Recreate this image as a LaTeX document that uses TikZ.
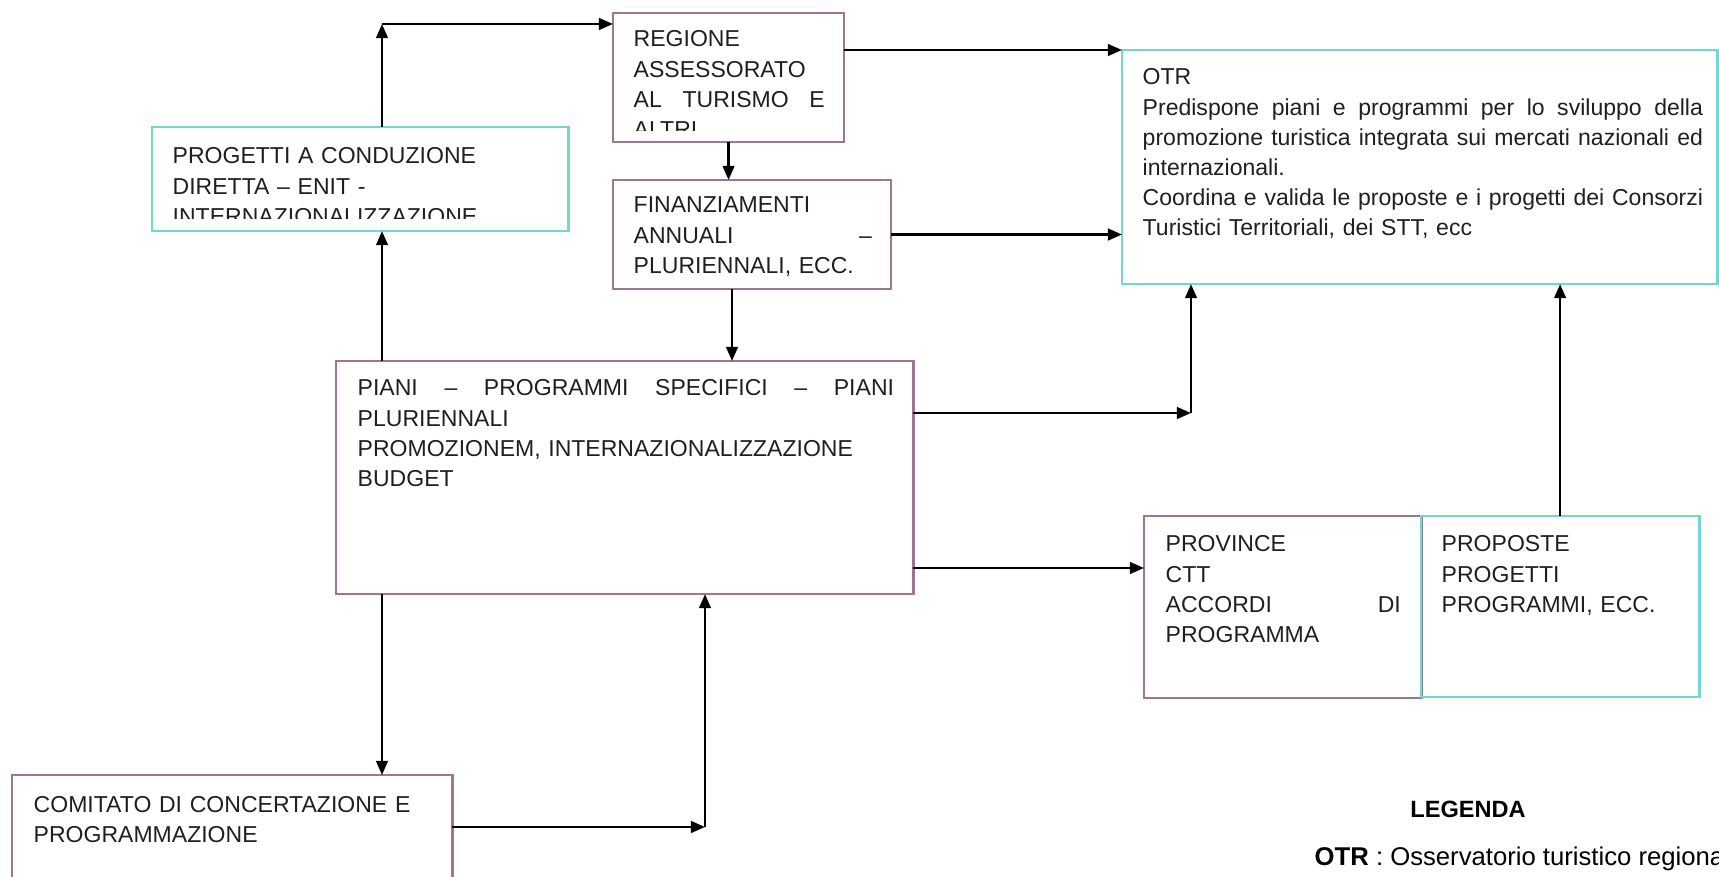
\documentclass[tikz,border=0pt]{standalone}
\usepackage{fontspec}
\setmainfont{Liberation Sans}
\usetikzlibrary{arrows.meta}
\definecolor{rosa}{RGB}{158,118,148}
\definecolor{ciano}{RGB}{112,214,214}
\tikzset{
  rosabox/.style={draw=rosa, line width=0.75pt, inner sep=0pt, outer sep=0pt, anchor=north west},
  cianobox/.style={draw=ciano, line width=0.75pt, inner sep=0pt, outer sep=0pt, anchor=north west},
  testo/.style={inner sep=0pt, anchor=base west, align=left, text=black!88, font=\fontsize{6.55}{8.54}\selectfont},
  freccia/.style={line width=0.7pt, -{Triangle[length=4pt,width=3.3pt]}},
}
\begin{document}
\begin{tikzpicture}[x=0.01cm, y=-0.01cm]
\useasboundingbox (0,0) rectangle (1719,877);
% riquadri
\node[rosabox, minimum width=2.31cm, minimum height=1.29cm] (regione) at (613,13) {};
\node[cianobox, minimum width=4.16cm, minimum height=1.04cm] (progetti) at (152,127) {};
\node[rosabox, minimum width=2.78cm, minimum height=1.09cm] (finanz) at (613,180) {};
\node[cianobox, minimum width=5.95cm, minimum height=2.34cm] (otr) at (1122,50) {};
\node[rosabox, minimum width=5.77cm, minimum height=2.33cm] (piani) at (336,361) {};
\node[rosabox, minimum width=2.77cm, minimum height=1.82cm] (province) at (1144,516) {};
\node[cianobox, minimum width=2.78cm, minimum height=1.81cm] (proposte) at (1421,516) {};
\node[rosabox, minimum width=4.40cm, minimum height=1.10cm] (comitato) at (12,775) {};
% testi
\begin{scope}
  \clip (regione.north west) rectangle ([yshift=0.12cm]regione.south east);
  \node[testo, text width=1.91cm] (regionetxt) at (633,47) {REGIONE\\ASSESSORATO\\AL\hfill TURISMO\hfill E\\ALTRI};
\end{scope}
\begin{scope}
  \clip (progetti.north west) rectangle ([yshift=0.13cm]progetti.south east);
  \node[testo, text width=3.76cm] (progettitxt) at (172,164) {PROGETTI A CONDUZIONE\\DIRETTA – ENIT -\\INTERNAZIONALIZZAZIONE};
\end{scope}
\node[testo, text width=2.38cm] (finanztxt) at (633,213) {FINANZIAMENTI\\ANNUALI\hfill –\\PLURIENNALI, ECC.};
\node[testo, text width=5.60cm] (otrtxt) at (1142,85) {OTR\\Predispone\hfill piani\hfill e\hfill programmi\hfill per\hfill lo\hfill sviluppo\hfill della\\promozione\hfill turistica\hfill integrata\hfill sui\hfill mercati\hfill nazionali\hfill ed\\internazionali.\\Coordina\hfill e\hfill valida\hfill le\hfill proposte\hfill e\hfill i\hfill progetti\hfill dei\hfill Consorzi\\Turistici Territoriali, dei STT, ecc};
\node[testo, text width=5.36cm] (pianitxt) at (357,396) {PIANI\hfill –\hfill PROGRAMMI\hfill SPECIFICI\hfill –\hfill PIANI\\PLURIENNALI\\PROMOZIONEM, INTERNAZIONALIZZAZIONE\\BUDGET};
\node[testo, text width=2.35cm] (provincetxt) at (1165,552) {PROVINCE\\CTT\\ACCORDI\hfill DI\\PROGRAMMA};
\node[testo, text width=2.38cm] (propostetxt) at (1441,552) {PROPOSTE\\PROGETTI\\PROGRAMMI, ECC.};
\node[testo, text width=4.00cm] (comitatotxt) at (33,812) {COMITATO DI CONCERTAZIONE E\\PROGRAMMAZIONE};
\node[anchor=base, inner sep=0pt, font=\fontsize{6.7}{8}\selectfont\bfseries] (legenda) at (1468,817) {LEGENDA};
\node[anchor=base west, inner sep=0pt, font=\fontsize{7.3}{9}\selectfont] (legendaotr) at (1314,865) {\textbf{OTR} : Osservatorio turistico regionale};
% frecce
\coordinate (angolo) at (382,24);
\coordinate (discesa) at (732,300);
\coordinate (nodo1) at (1191,413);
\coordinate (nodo2) at (1144,568);
\coordinate (nodo3) at (705,827);
\draw[freccia] (progetti.north -| angolo) -- (angolo);
\draw[freccia] (angolo) -- (angolo -| regione.west);
\draw[freccia] (regione.south) -- (finanz.north -| regione.south);
\draw[freccia] (regione.east |- otr.north west) -- (otr.north west);
\draw[freccia] (finanz.east) -- (finanz.east -| otr.west);
\draw[freccia] (finanz.south -| discesa) -- (piani.north -| discesa);
\draw[freccia] (piani.north -| angolo) -- (progetti.south -| angolo);
\draw[freccia] (piani.east |- nodo1) -- (nodo1);
\draw[freccia] (nodo1) -- (nodo1 |- otr.south);
\draw[freccia] (piani.east |- nodo2) -- (province.west |- nodo2);
\draw[freccia] (proposte.north) -- (proposte.north |- otr.south);
\draw[freccia] (piani.south -| angolo) -- (comitato.north -| angolo);
\draw[freccia] (comitato.east |- nodo3) -- (nodo3);
\draw[freccia] (nodo3) -- (nodo3 |- piani.south);
\end{tikzpicture}
\end{document}
